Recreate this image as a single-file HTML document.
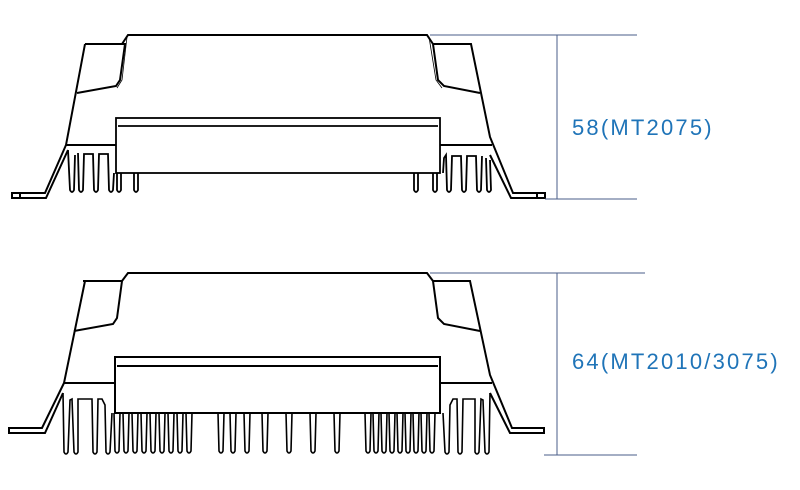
<!DOCTYPE html>
<html><head><meta charset="utf-8"><style>
html,body{margin:0;padding:0;background:#fff}
svg{display:block}
text{font-family:"Liberation Sans",sans-serif;font-size:22px;letter-spacing:2.2px;fill:#1f74b8}
</style></head><body>
<svg width="800" height="490" viewBox="0 0 800 490" xmlns="http://www.w3.org/2000/svg">
<defs>
<g id="body" fill="none" stroke="#000" stroke-width="2">
  <path d="M122,44 L128,35 L427,35 L433,44"/>
  <path d="M85,44 L125,44 L120,80 L116,86 L77,93"/>
  <path d="M127,37 L122,80 L117,88" stroke-width="0.8"/>
  <path d="M85,44 L66,145 L45,193 L12,193 L12,198 L46,198 L68,150"/>
  <line x1="20" y1="193" x2="20" y2="198"/>
  <path d="M433,44 L471,44 L490,137 L513,193 L545,193 L545,198 L511,198 L490,155"/>
  <line x1="537" y1="193" x2="537" y2="198"/>
  <path d="M433,44 L438,80 L444,86 L480,93"/>
  <path d="M429,37 L436,80 L442,88" stroke-width="0.8"/>
  <line x1="66" y1="145" x2="116" y2="145"/>
  <line x1="440" y1="145" x2="492" y2="145"/>
</g>
</defs>

<use href="#body"/>
<g fill="none" stroke="#000" stroke-width="1.8">
  <rect x="116" y="118" width="324" height="55"/>
  <line x1="118" y1="126" x2="438" y2="126"/>
  <path d="M68,150 L70,190 Q72,194 74,190 L75,155"/>
  <path d="M78,153 L79,190 Q81,194 83,190 L84,154 L93,154 L94,190 Q96,194 98,190 L99,154 L108,154 L109,190 Q111,194 113,190 L114,173"/>
  <path d="M117,173 L117,190 Q119,194 121,190 L121,173"/>
  <path d="M134,173 L134,190 Q136,194 138,190 L138,173"/>
  <path d="M414,173 L414,190 Q416,194 418,190 L418,173"/>
  <path d="M433,173 L433,190 Q435,194 437,190 L437,173"/>
  <path d="M443,173 L444,158 L446,155 L447,190 Q449,194 451,190 L452,156 L461,156 L462,190 Q464,194 466,190 L467,156 L476,156 L477,190 Q479,194 481,190 L482,156"/>
  <path d="M486,158 L487,190 Q489,194 491,190 L490,160"/>
</g>
<g stroke="#4a5d8a" stroke-width="1">
  <line x1="430" y1="35" x2="637" y2="35"/>
  <line x1="545" y1="199" x2="637" y2="199"/>
  <line x1="557" y1="35" x2="557" y2="199"/>
</g>
<text x="572" y="135">58(MT2075)</text>

<g transform="translate(0,238)">
  <g fill="none" stroke="#000" stroke-width="2">
    <path d="M122,43 L128,35 L427,35 L433,43"/>
    <path d="M83,43 L122,43 L117,80 L113,86 L74,93"/>
    <path d="M85,43 L64,145 L42,190 L9,190 L9,195 L45,195 L63,155"/>
    <path d="M433,43 L470,43 L490,137 L512,190 L544,190 L544,195 L510,195 L490,155"/>
    <path d="M433,43 L438,80 L444,86 L480,93"/>
    <line x1="64" y1="145" x2="115" y2="145"/>
    <line x1="440" y1="145" x2="492" y2="145"/>
    <rect x="115" y="119" width="325" height="56"/>
    <line x1="117" y1="128" x2="438" y2="128"/>
  </g>
</g>
<g fill="none" stroke="#000" stroke-width="1.6">
  <path d="M63,393 L64,452 Q66,456 68,452 L70,400 L72,399 L74,452 Q76,456 78,452 L78,399 L92,399 L93,452 Q95,456 97,452 L98,399 L102,399 L105,405 L106,452 Q108,456 110,452 L112,413"/>
  <path d="M490,393 L489,452 Q487,456 485,452 L483,400 L481,399 L479,452 Q477,456 475,452 L475,399 L463,399 L462,452 Q460,456 458,452 L457,399 L453,399 L450,405 L449,452 Q447,456 445,452 L443,413"/>
  <g id="sf">
  <path d="M114,413 L115,451 Q117,455 119,451 L120,413"/>
  </g>
  <use href="#sf" x="9"/><use href="#sf" x="18"/><use href="#sf" x="27"/><use href="#sf" x="36"/>
  <use href="#sf" x="45"/><use href="#sf" x="54"/><use href="#sf" x="63"/><use href="#sf" x="72"/>
  <use href="#sf" x="104"/><use href="#sf" x="116"/><use href="#sf" x="130"/><use href="#sf" x="148"/>
  <use href="#sf" x="172"/><use href="#sf" x="196"/><use href="#sf" x="220"/>
  <use href="#sf" x="251"/><use href="#sf" x="259"/><use href="#sf" x="267"/><use href="#sf" x="275"/>
  <use href="#sf" x="283"/><use href="#sf" x="291"/><use href="#sf" x="299"/><use href="#sf" x="307"/><use href="#sf" x="315"/>
</g>
<g stroke="#4a5d8a" stroke-width="1">
  <line x1="430" y1="273" x2="645" y2="273"/>
  <line x1="544" y1="455" x2="637" y2="455"/>
  <line x1="557" y1="273" x2="557" y2="455"/>
</g>
<text x="572" y="369">64(MT2010/3075)</text>
</svg>
</body></html>
